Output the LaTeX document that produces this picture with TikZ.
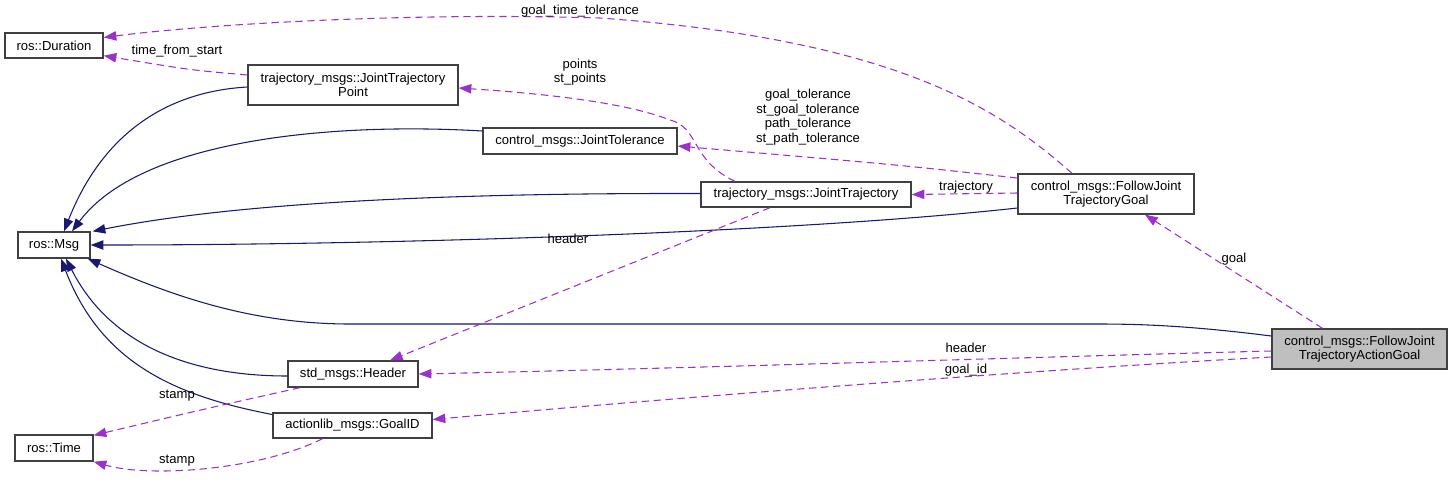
\documentclass[tikz,border=0pt]{standalone}
\usepackage{fontspec}
\setmainfont{Liberation Sans}
\usetikzlibrary{arrows.meta,calc}
\definecolor{inhc}{RGB}{25,25,112}
\definecolor{usec}{RGB}{153,50,204}
\definecolor{boxc}{RGB}{64,64,64}
\definecolor{fillc}{RGB}{191,191,191}
\begin{document}
\begin{tikzpicture}[x=0.75pt,y=-0.75pt,
  font=\fontsize{9.8}{10.9}\selectfont,
  cls/.style={draw=boxc,line width=1pt,fill=white,inner sep=0pt,align=center},
  inh/.style={draw=inhc,line width=0.8pt,-{Triangle[length=9.5pt,width=7pt]},fill=none},
  use/.style={draw=usec,line width=0.8pt,dash pattern=on 5.5pt off 3.5pt,-{Triangle[length=9.5pt,width=7pt,fill=usec]}},
  lbl/.style={align=center,inner sep=0pt,fill=none}]
\useasboundingbox (0,0) rectangle (1453,480);
% nodes
\node[cls,minimum width=73.5pt,minimum height=18.75pt] (dur) at (54,45.5) {ros::Duration};
\node[cls,minimum width=157.5pt,minimum height=30pt] (jtp) at (353,85) {trajectory\_msgs::JointTrajectory\\Point};
\node[cls,minimum width=145.5pt,minimum height=19.5pt] (jtol) at (580,141) {control\_msgs::JointTolerance};
\node[cls,minimum width=157.5pt,minimum height=18.75pt] (jt) at (806,194.5) {trajectory\_msgs::JointTrajectory};
\node[cls,minimum width=132pt,minimum height=30pt] (fjtg) at (1106,194) {control\_msgs::FollowJoint\\TrajectoryGoal};
\node[cls,minimum width=54pt,minimum height=19.5pt] (msg) at (54,245) {ros::Msg};
\node[cls,fill=fillc,minimum width=131.25pt,minimum height=30pt] (ag) at (1359.5,349) {control\_msgs::FollowJoint\\TrajectoryActionGoal};
\node[cls,minimum width=97.5pt,minimum height=19.5pt] (hdr) at (353,374) {std\_msgs::Header};
\node[cls,minimum width=119.25pt,minimum height=18.75pt] (gid) at (352.5,425.5) {actionlib\_msgs::GoalID};
\node[cls,minimum width=58.5pt,minimum height=19.5pt] (time) at (54,448) {ros::Time};
% inheritance
\draw[inh] ($(jtp.west)+(0,2)$) .. controls (160,92) and (100,140) .. ($(msg.north)+(10,0)$);
\draw[inh] ($(jtol.west)+(0,-10)$) .. controls (330,122) and (140,140) .. ($(msg.north)+(18,0)$);
\draw[inh] ($(jt.west)+(0,-1)$) .. controls (480,193) and (250,200) .. ($(msg.north east)+(2,0)$);
\draw[inh] ($(fjtg.west)+(0,14)$) .. controls (800,232) and (400,245) .. (msg.east);
\draw[inh] ($(ag.west)+(0,-13)$) .. controls (1200,327) and (1150,324) .. (1100,324) -- (350,324) .. controls (250,324) and (170,295) .. ($(msg.south east)+(-3,0)$);
\draw[inh] ($(hdr.west)+(0,2)$) .. controls (190,376) and (110,345) .. ($(msg.south)+(12,0)$);
\draw[inh] ($(gid.west)+(0,-11)$) .. controls (170,395) and (100,360) .. ($(msg.south)+(7,0)$);
% usage
\draw[use] ($(fjtg.north)+(-34,0)$) .. controls (1000,110) and (900,40) .. (600,18) .. controls (400,12) and (200,25) .. ($(dur.east)+(0,-8)$);
\draw[use] ($(jtp.west)+(0,-10)$) .. controls (190,70) .. ($(dur.south east)+(0,-3)$);
\draw[use] ($(jt.north)+(-71,0)$) .. controls (690,160) and (700,128) .. (670,120) .. controls (620,100) and (520,92) .. ($(jtp.east)+(0,3)$);
\draw[use] ($(fjtg.west)+(0,-16)$) .. controls (900,165) .. ($(jtol.east)+(0,5)$);
\draw[use] ($(fjtg.west)+(0,-1)$) -- (jt.east);
\draw[use] ($(ag.north)+(-37,0)$) -- ($(fjtg.south)+(39,0)$);
\draw[use] ($(jt.south)+(-36,0)$) -- ($(hdr.north)+(37,0)$);
\draw[use] ($(ag.west)+(0,2)$) .. controls (1000,358) and (700,368) .. (hdr.east);
\draw[use] ($(ag.west)+(0,8)$) .. controls (1000,372) and (650,400) .. ($(gid.east)+(0,-6)$);
\draw[use] ($(hdr.south)+(-53,0)$) .. controls (200,410) .. ($(time.north east)+(0,1)$);
\draw[use] ($(gid.south)+(-30,0)$) .. controls (260,470) and (150,478) .. (time.south east);
% labels
\node[lbl] (l1) at (580,11) {goal\_time\_tolerance};
\node[lbl] (l2) at (177,51) {time\_from\_start};
\node[lbl] (l3) at (580,72) {points\\st\_points};
\node[lbl] (l4) at (808,117) {goal\_tolerance\\st\_goal\_tolerance\\path\_tolerance\\st\_path\_tolerance};
\node[lbl] (l5) at (966,187) {trajectory};
\node[lbl] (l6) at (1234,259) {goal};
\node[lbl] (l7) at (568,239) {header};
\node[lbl] (l8) at (966,348) {header};
\node[lbl] (l9) at (966,370) {goal\_id};
\node[lbl] (l10) at (177,396) {stamp};
\node[lbl] (l11) at (177,461) {stamp};
\end{tikzpicture}
\end{document}
